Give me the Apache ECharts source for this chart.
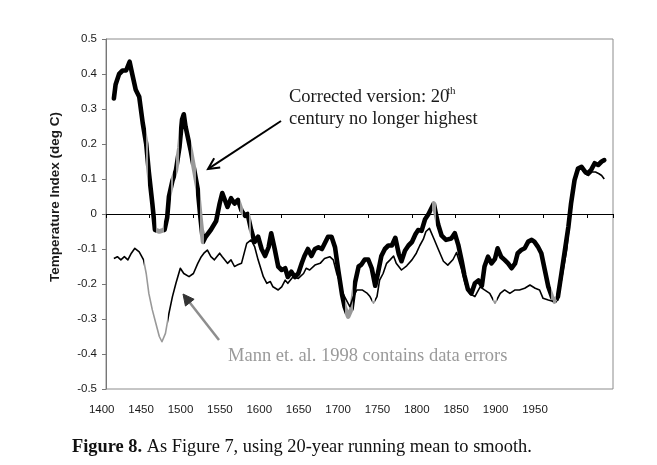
<!DOCTYPE html>
<html><head><meta charset="utf-8">
<script src="https://cdn.jsdelivr.net/npm/echarts@6/dist/echarts.min.js"></script>
<style>html,body{margin:0;padding:0;background:#fff}#c{width:657px;height:465px}</style>
</head><body><div id="c"></div>
<script>
// Corrected version (thick line)
const corrYears = [1409,1411,1415,1419,1423,1427,1430,1434,1438,1442,
  1446,1449,1453,1456,1461,1467,1470,1472,1476,1480,
  1484,1487,1489,1491,1497,1501,1505,1508,1511,1514,
  1520,1526,1530,1533,1536,1539,1543,1547,1551,1555,
  1559,1562,1566,1570,1574,1578,1582,1586,1589,1593,
  1597,1601,1605,1608,1612,1616,1620,1624,1627,1631,
  1635,1639,1643,1647,1650,1654,1658,1662,1666,1670,
  1673,1677,1681,1685,1689,1692,1696,1700,1704,1708,
  1711,1715,1719,1723,1727,1731,1735,1738,1742,1746,
  1750,1754,1757,1761,1765,1769,1773,1775,1777,1780,
  1784,1789,1795,1799,1803,1807,1810,1814,1818,1822,
  1826,1830,1833,1837,1841,1845,1848,1852,1856,1860,
  1864,1868,1871,1875,1879,1883,1887,1890,1894,1898,
  1902,1906,1910,1913,1917,1921,1925,1929,1932,1936,
  1940,1944,1948,1951,1955,1959,1963,1967,1970];
const corrVals = [0.33,0.37,0.40,0.41,0.41,0.435,0.40,0.355,0.335,0.26,
  0.20,0.12,0.03,-0.045,-0.05,-0.045,-0.01,0.05,0.095,0.125,
  0.19,0.27,0.285,0.25,0.18,0.125,0.07,-0.01,-0.08,-0.065,
  -0.045,-0.02,0.03,0.06,0.04,0.02,0.045,0.03,0.04,0.01,
  -0.005,0.0,-0.045,-0.08,-0.065,-0.1,-0.12,-0.095,-0.055,-0.1,
  -0.15,-0.16,-0.155,-0.18,-0.165,-0.18,-0.17,-0.14,-0.12,-0.1,
  -0.12,-0.1,-0.095,-0.1,-0.085,-0.065,-0.065,-0.095,-0.165,-0.23,
  -0.265,-0.293,-0.27,-0.195,-0.15,-0.145,-0.13,-0.13,-0.155,-0.205,
  -0.17,-0.12,-0.1,-0.09,-0.09,-0.068,-0.115,-0.135,-0.105,-0.09,
  -0.08,-0.058,-0.046,-0.048,-0.015,0.0,0.02,0.03,0.005,-0.03,
  -0.062,-0.074,-0.07,-0.055,-0.088,-0.135,-0.175,-0.215,-0.227,-0.198,
  -0.19,-0.205,-0.15,-0.122,-0.141,-0.128,-0.098,-0.122,-0.131,-0.141,
  -0.155,-0.141,-0.112,-0.103,-0.098,-0.079,-0.074,-0.079,-0.093,-0.112,
  -0.16,-0.208,-0.236,-0.25,-0.236,-0.17,-0.103,-0.036,0.03,0.097,
  0.13,0.135,0.121,0.116,0.126,0.145,0.14,0.15,0.154];

// Mann et al. 1998 (thin line)
const mbhYears = [1409,1413,1417,1421,1425,1429,1433,1438,1443,1446,
  1449,1453,1457,1461,1464,1468,1472,1476,1480,1485,
  1489,1495,1500,1505,1509,1512,1516,1520,1524,1530,
  1533,1539,1543,1547,1550,1555,1561,1566,1570,1574,
  1580,1584,1588,1591,1597,1601,1605,1608,1614,1620,
  1626,1629,1633,1639,1645,1650,1656,1660,1664,1668,
  1671,1675,1679,1683,1687,1693,1699,1702,1706,1710,
  1713,1717,1721,1725,1729,1732,1738,1744,1750,1755,
  1759,1763,1766,1770,1775,1780,1786,1791,1797,1801,
  1807,1811,1816,1822,1828,1833,1839,1845,1851,1856,
  1862,1868,1873,1879,1885,1891,1896,1900,1906,1912,
  1917,1923,1927,1930,1933,1936,1940,1944,1948,1952,
  1956,1960,1964,1967,1970];
const mbhVals = [-0.127,-0.122,-0.131,-0.122,-0.131,-0.112,-0.098,-0.108,-0.131,-0.17,
  -0.227,-0.274,-0.312,-0.35,-0.365,-0.341,-0.284,-0.236,-0.198,-0.155,
  -0.17,-0.179,-0.17,-0.141,-0.122,-0.112,-0.103,-0.122,-0.131,-0.112,
  -0.122,-0.141,-0.131,-0.15,-0.146,-0.141,-0.084,-0.074,-0.093,-0.131,
  -0.179,-0.198,-0.193,-0.208,-0.217,-0.208,-0.189,-0.198,-0.179,-0.184,
  -0.17,-0.155,-0.16,-0.146,-0.141,-0.127,-0.122,-0.131,-0.17,-0.198,
  -0.227,-0.246,-0.265,-0.236,-0.217,-0.217,-0.227,-0.236,-0.255,-0.236,
  -0.189,-0.17,-0.141,-0.131,-0.12,-0.141,-0.16,-0.148,-0.131,-0.112,
  -0.09,-0.072,-0.05,-0.041,-0.07,-0.1,-0.135,-0.146,-0.13,-0.11,
  -0.16,-0.2,-0.227,-0.236,-0.208,-0.217,-0.227,-0.255,-0.227,-0.217,
  -0.227,-0.217,-0.217,-0.212,-0.203,-0.212,-0.217,-0.241,-0.246,-0.25,
  -0.246,-0.16,-0.103,-0.03,0.03,0.095,0.125,0.13,0.115,0.11,
  0.12,0.12,0.115,0.11,0.10];

// year spans drawn in grey in the reference
const corrGrey = [[1446,1448],[1457,1466],[1474,1477],[1480,1483],[1497,1503],[1507,1512],[1553,1557],[1564,1566],[1673,1683],[1773,1778],[1909,1915]];
const mbhGrey = [[1443,1471],[1704,1708],[1843,1847],[1911,1916]];

const xTickLabels = ['1400','1450','1500','1550','1600','1650','1700','1750','1800','1850','1900','1950'];

const zip = (xs, ys) => xs.map((x, i) => [x, ys[i]]);
const greyPieces = r => r.map(p => ({gte: p[0], lte: p[1], color: '#999999'}));

function arrow(x1, y1, x2, y2, color, headColor, w, head, filled) {
  const dx = x2 - x1, dy = y2 - y1, L = Math.hypot(dx, dy);
  const ux = dx / L, uy = dy / L, px = -uy, py = ux;
  const bx = x2 - ux * head, by = y2 - uy * head, hw = head * 0.5;
  const pts = [[bx + px * hw, by + py * hw], [x2, y2], [bx - px * hw, by - py * hw]];
  return [
    {type: 'line', shape: {x1: x1, y1: y1, x2: x2 - ux * 2, y2: y2 - uy * 2}, style: {stroke: color, lineWidth: w}, z: 100},
    filled
      ? {type: 'polygon', shape: {points: pts}, style: {fill: headColor, stroke: headColor, lineWidth: 1}, z: 101}
      : {type: 'polyline', shape: {points: pts}, style: {stroke: headColor, lineWidth: w, fill: null}, z: 101}
  ];
}

const serif = '"Liberation Serif", "Times New Roman", serif';
const sans = '"Liberation Sans", Arial, sans-serif';

const chart = echarts.init(document.getElementById('c'), null, {renderer: 'canvas'});
chart.setOption({
  animation: false,
  backgroundColor: '#fff',
  grid: [
    {left: 106, top: 39, width: 507, height: 350, show: true, borderColor: '#8c8c8c', borderWidth: 1, backgroundColor: 'transparent'},
    {left: 101.7, top: 39, width: 472.7, height: 350, show: false}
  ],
  xAxis: [
    {type: 'value', gridIndex: 0, min: 1400, max: 1980, interval: 50,
     axisLine: {onZero: true, lineStyle: {color: '#000', width: 1}},
     axisTick: {show: true, inside: false, length: 4, lineStyle: {color: '#000'}},
     axisLabel: {show: false}, splitLine: {show: false}},
    {type: 'value', gridIndex: 1, min: 1400, max: 2000, interval: 50, position: 'bottom',
     axisLine: {show: false}, axisTick: {show: false}, splitLine: {show: false},
     axisLabel: {show: true, margin: 15, fontFamily: sans, fontSize: 11.5, color: '#1a1a1a',
       formatter: v => { const i = Math.round((v - 1400) / 50); return xTickLabels[i] || ''; }}}
  ],
  yAxis: [
    {type: 'value', gridIndex: 0, min: -0.5, max: 0.5, interval: 0.1,
     axisLine: {show: true, onZero: false, lineStyle: {color: '#777', width: 1}},
     axisTick: {show: true, inside: false, length: 4, lineStyle: {color: '#777'}},
     splitLine: {show: false},
     axisLabel: {margin: 9, fontFamily: sans, fontSize: 11.5, color: '#1a1a1a',
       formatter: v => Math.abs(v) < 1e-9 ? '0' : v.toFixed(1)}},
    {type: 'value', gridIndex: 1, min: -0.5, max: 0.5, show: false}
  ],
  visualMap: [
    {type: 'piecewise', show: false, seriesIndex: 0, dimension: 0, pieces: greyPieces(corrGrey), outOfRange: {color: '#000'}},
    {type: 'piecewise', show: false, seriesIndex: 1, dimension: 0, pieces: greyPieces(mbhGrey), outOfRange: {color: '#000'}}
  ],
  series: [
    {name: 'Corrected version', type: 'line', xAxisIndex: 0, yAxisIndex: 0, data: zip(corrYears, corrVals),
     showSymbol: false, symbol: 'none', lineStyle: {width: 4.6, join: 'round', cap: 'round'}, z: 3},
    {name: 'Mann et. al. 1998', type: 'line', xAxisIndex: 0, yAxisIndex: 0, data: zip(mbhYears, mbhVals),
     showSymbol: false, symbol: 'none', lineStyle: {width: 1.6, join: 'round'}, z: 4}
  ],
  graphic: [
    {type: 'text', x: 55, y: 197, rotation: Math.PI / 2,
     style: {text: 'Temperature Index (deg C)', font: 'bold 13.5px ' + sans, fill: '#1a1a1a', align: 'center', verticalAlign: 'middle'}},
    {type: 'text', x: 289, y: 97,
     style: {text: 'Corrected version: 20', font: '18.5px ' + serif, fill: '#1a1a1a', align: 'left', verticalAlign: 'middle'}},
    {type: 'text', x: 447, y: 91,
     style: {text: 'th', font: '11px ' + serif, fill: '#1a1a1a', align: 'left', verticalAlign: 'middle'}},
    {type: 'text', x: 289, y: 119,
     style: {text: 'century no longer highest', font: '18.5px ' + serif, fill: '#1a1a1a', align: 'left', verticalAlign: 'middle'}},
    {type: 'text', x: 228, y: 356,
     style: {text: 'Mann et. al. 1998 contains data errors', font: '18.5px ' + serif, fill: '#9a9a9a', align: 'left', verticalAlign: 'middle'}},
    {type: 'text', x: 72, y: 447,
     style: {text: '{b|Figure 8.} As Figure 7, using 20-year running mean to smooth.', fontSize: 18.4, fontFamily: serif, fill: '#111', align: 'left', verticalAlign: 'middle',
       rich: {b: {fontSize: 18.4, fontFamily: serif, fontWeight: 'bold', fill: '#111'}}}},
    ...arrow(281, 121, 208, 169, '#000', '#000', 2, 11, false),
    ...arrow(219, 340, 183, 294, '#8e8e8e', '#333', 2.5, 11, true)
  ]
});
</script>
</body></html>
